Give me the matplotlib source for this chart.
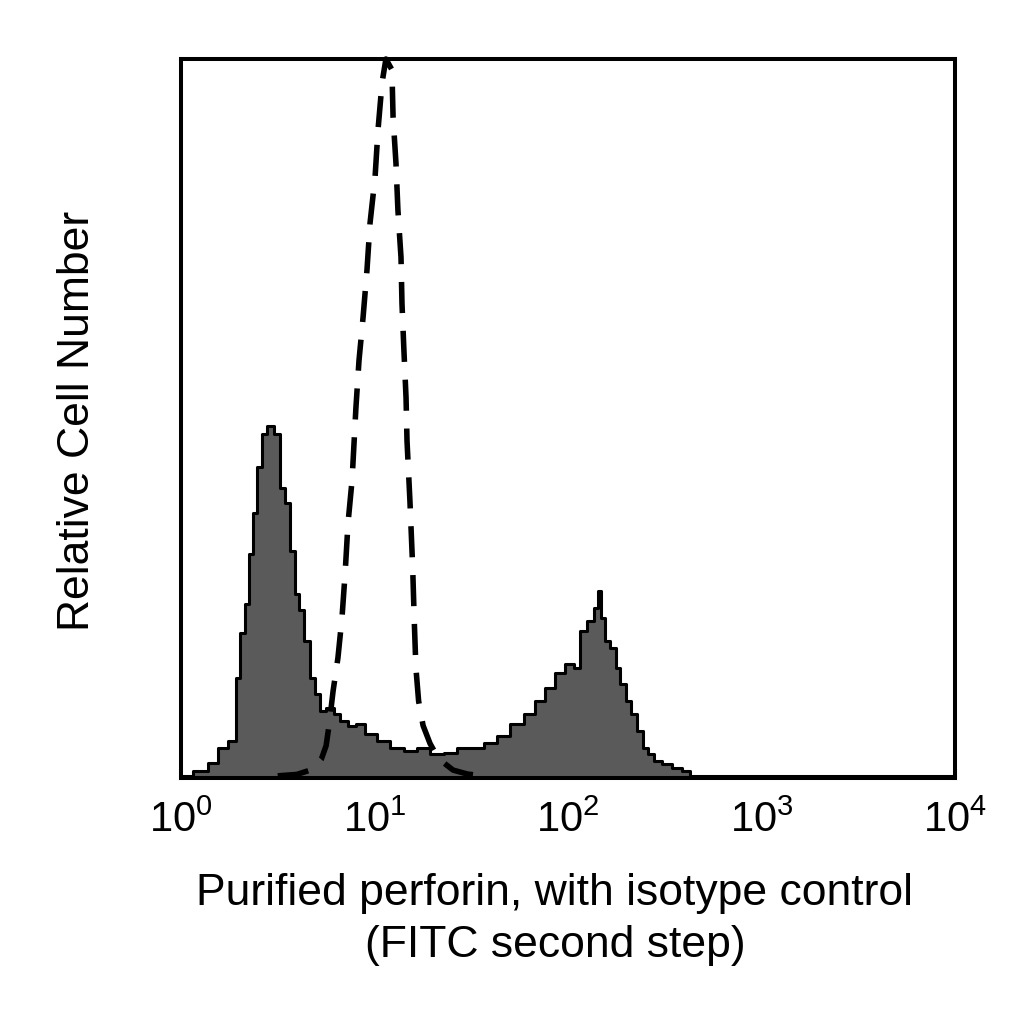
import numpy as np
import matplotlib
matplotlib.use("Agg")
import matplotlib.pyplot as plt

plt.rcParams['font.family'] = ['Liberation Sans', 'DejaVu Sans']
plt.rcParams['mathtext.fontset'] = 'custom'
plt.rcParams['mathtext.rm'] = 'Liberation Sans'

# Filled histogram (perforin stain): log10 fluorescence vs relative count (% of axis)
perforin_log = [0.00, 0.114, 0.165, 0.217, 0.269, 0.295, 0.315, 0.341, 0.357, 0.382, 0.408, 0.424,
                0.460, 0.496, 0.522, 0.548, 0.574, 0.599, 0.625, 0.651, 0.677, 0.703, 0.729,
                0.770, 0.806, 0.837, 0.884, 0.925, 0.977, 1.044, 1.116, 1.183, 1.251, 1.323,
                1.390, 1.457, 1.530, 1.597, 1.664, 1.736, 1.804, 1.855, 1.907, 1.959, 2.010,
                2.047, 2.078, 2.114, 2.150, 2.165, 2.181, 2.202, 2.233, 2.258, 2.284, 2.310,
                2.336, 2.372, 2.398, 2.424, 2.460, 2.512, 2.563, 2.615, 2.65, 4.0]
perforin_cnt = [0.3, 0.97, 2.09, 4.18, 5.15, 13.9, 20.1, 24.2, 31.2, 36.8, 43.2, 47.9,
                49.0, 47.9, 40.4, 38.2, 31.6, 25.6, 23.3, 19.1, 13.9, 11.7, 9.33,
                9.75, 8.91, 7.94, 7.24, 7.52, 6.13, 5.15, 4.18, 3.76, 4.18, 3.34,
                3.48, 4.18, 4.18, 4.87, 5.85, 7.52, 8.91, 10.7, 12.5, 14.6, 15.9,
                15.3, 20.5, 21.9, 23.7, 26.0, 22.3, 19.1, 18.1, 15.3, 13.1, 10.7,
                8.91, 6.55, 4.18, 3.34, 2.37, 1.95, 1.39, 0.97, 0.3, 0.3]

# Dashed isotype control curve
iso_log = [0.500, 0.599, 0.680, 0.725, 0.750, 0.766, 0.786, 0.811, 0.832, 0.848, 0.863, 0.884,
           0.904, 0.920, 0.941, 0.961, 0.977, 1.003, 1.018, 1.039, 1.059, 1.090, 1.096,
           1.111, 1.121, 1.137, 1.142, 1.152, 1.163, 1.168, 1.183, 1.197, 1.206, 1.214,
           1.228, 1.251, 1.287, 1.330, 1.406, 1.480, 1.560]
iso_cnt = [0.3, 0.5, 1.2, 2.6, 4.5, 7.5, 12.1, 16.7, 22.3, 28.4, 35.4, 41.4,
           51.5, 58.1, 64.1, 70.6, 77.2, 83.6, 90.1, 96.7, 100.0, 98.5, 91.9,
           85.5, 79.0, 72.4, 66.0, 59.5, 52.9, 46.9, 38.6, 29.5, 21.5, 15.3,
           10.7, 7.3, 4.8, 2.7, 1.1, 0.55, 0.3]

xticks = [1, 10, 100, 1000, 10000]
xticklabels = [r'$\mathdefault{10^{0}}$', r'$\mathdefault{10^{1}}$', r'$\mathdefault{10^{2}}$',
               r'$\mathdefault{10^{3}}$', r'$\mathdefault{10^{4}}$']

fig = plt.figure(figsize=(10.24, 10.24), dpi=100)
ax = fig.add_axes([181/1024, 1 - 778/1024, 774/1024, 719/1024])

px = 10 ** np.array(perforin_log)
ax.fill_between(px, perforin_cnt, 0, step='mid', color='#5a5a5a', linewidth=0, zorder=2)
ax.step(px, perforin_cnt, where='mid', color='#000000', linewidth=2.2, zorder=3)

ix = 10 ** np.array(iso_log)
ax.plot(ix, iso_cnt, color='black', linewidth=4.0, linestyle=(0, (5.6, 3.2)),
        zorder=4, clip_on=False, solid_capstyle='butt', dash_capstyle='butt',
        solid_joinstyle='round')

ax.set_xscale('log')
ax.set_xlim(1, 10000)
ax.set_ylim(0, 100)
ax.set_xticks(xticks)
ax.set_xticklabels(xticklabels, fontsize=30)
ax.xaxis.set_minor_locator(matplotlib.ticker.NullLocator())
ax.set_yticks([])
ax.tick_params(axis='x', length=0, pad=16)
for s in ax.spines.values():
    s.set_linewidth(2.9)
    s.set_zorder(5)

fig.text(78/1024, 1 - 421/1024, 'Relative Cell Number', rotation=90, fontsize=32,
         ha='center', va='center')
fig.text(555/1024, 1 - 893/1024, 'Purified perforin, with isotype control', fontsize=32,
         ha='center', va='center')
fig.text(555/1024, 1 - 945/1024, '(FITC second step)', fontsize=32,
         ha='center', va='center')

fig.savefig('out.png', dpi=100)
